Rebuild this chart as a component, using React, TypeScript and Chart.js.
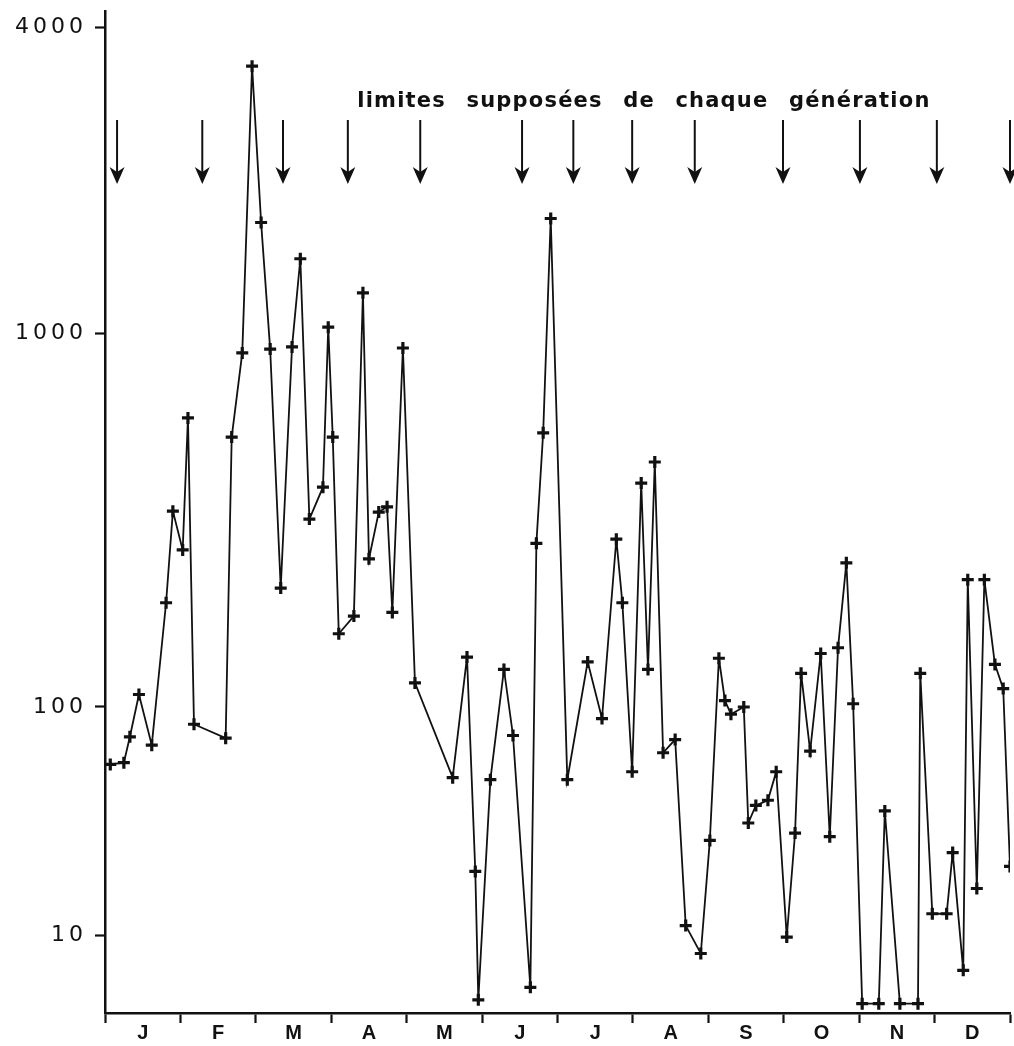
import React, { useEffect, useRef } from 'react';
import { Chart, registerables, LogarithmicScale } from 'chart.js';

Chart.register(...registerables);

// ---- data ----
const monthLabels = ['J', 'F', 'M', 'A', 'M', 'J', 'J', 'A', 'S', 'O', 'N', 'D'];

// sampling dates, in months since 1 January
const sampleMonth = [
  0.07, 0.25, 0.33, 0.45, 0.62, 0.81, 0.9, 1.03, 1.1, 1.18,
  1.6, 1.68, 1.82, 1.95, 2.07, 2.19, 2.33, 2.48, 2.59, 2.71,
  2.89, 2.96, 3.02, 3.1, 3.3, 3.42, 3.5, 3.63, 3.74, 3.81,
  3.95, 4.11, 4.61, 4.8, 4.91, 4.95, 5.11, 5.29, 5.41, 5.64,
  5.72, 5.81, 5.91, 6.13, 6.4, 6.59, 6.78, 6.86, 6.99, 7.11,
  7.2, 7.29, 7.4, 7.56, 7.7, 7.9, 8.02, 8.14, 8.22, 8.3,
  8.47, 8.53, 8.63, 8.79, 8.9, 9.04, 9.15, 9.23, 9.35, 9.49,
  9.61, 9.72, 9.83, 9.92, 10.04, 10.26, 10.34, 10.54, 10.78, 10.81,
  10.97, 11.16, 11.24, 11.38, 11.44, 11.56, 11.66, 11.8, 11.91, 12.0,
];

const captures = [
  56, 57, 74, 108, 68, 190, 334, 263, 593, 84,
  73, 527, 885, 3350, 1650, 906, 208, 918, 1400, 318,
  387, 1027, 527, 157, 175, 1200, 249, 332, 343, 179,
  912, 116, 49, 136, 19, 5.2, 48, 126, 75, 5.9,
  274, 541, 1680, 48, 132, 89, 281, 190, 52, 397,
  126, 452, 63, 72, 11, 8.3, 26, 135, 104, 93,
  100, 31, 37, 39, 52, 9.8, 28, 123, 64, 139,
  27, 144, 243, 102, 5, 5, 35, 5, 5, 123,
  12.4, 12.4, 23, 7, 219, 16, 219, 130, 112, 20,
];

const yTickValues = [10, 100, 1000, 4000];

// supposed limits of each generation (months since 1 January)
const generationLimits = [0.16, 1.29, 2.36, 3.22, 4.18, 5.53, 6.21, 6.99, 7.82, 8.99, 10.01, 11.03, 12.0];

const annotationText = 'limites supposées de chaque génération';

// ---- custom piecewise-logarithmic axis (hand-drawn decades of unequal length) ----
const axisAnchors: [number, number][] = [
  [4.55, 0],
  [10, 0.0778],
  [100, 0.3054],
  [1000, 0.6786],
  [4000, 0.984],
  [4300, 1],
];

function valueToDecimal(v: number): number {
  const lv = Math.log10(Math.max(v, 1e-9));
  for (let i = 0; i < axisAnchors.length - 1; i++) {
    const [v0, f0] = axisAnchors[i];
    const [v1, f1] = axisAnchors[i + 1];
    const l0 = Math.log10(v0);
    const l1 = Math.log10(v1);
    if (lv <= l1 || i === axisAnchors.length - 2) {
      return f0 + ((lv - l0) / (l1 - l0)) * (f1 - f0);
    }
  }
  return 0;
}

function decimalToValue(d: number): number {
  for (let i = 0; i < axisAnchors.length - 1; i++) {
    const [v0, f0] = axisAnchors[i];
    const [v1, f1] = axisAnchors[i + 1];
    if (d <= f1 || i === axisAnchors.length - 2) {
      const l0 = Math.log10(v0);
      const l1 = Math.log10(v1);
      return Math.pow(10, l0 + ((d - f0) / (f1 - f0)) * (l1 - l0));
    }
  }
  return axisAnchors[0][0];
}

class PiecewiseLogScale extends (LogarithmicScale as any) {
  static id = 'piecewiseLog';
  static defaults = {};
  buildTicks() {
    return yTickValues.map((v) => ({ value: v }));
  }
  getPixelForValue(value: number) {
    if (value === null || value === undefined || isNaN(value)) return NaN;
    return (this as any).getPixelForDecimal(valueToDecimal(value));
  }
  getValueForPixel(pixel: number) {
    return decimalToValue((this as any).getDecimalForPixel(pixel));
  }
  drawLabels(area: any) {
    const ctx = (this as any).ctx as CanvasRenderingContext2D;
    ctx.save();
    (ctx as any).letterSpacing = '4px';
    super.drawLabels(area);
    ctx.restore();
  }
}
Chart.register(PiecewiseLogScale as any);

const generationPlugin = {
  id: 'generationArrows',
  afterDraw(chart: any) {
    const ctx: CanvasRenderingContext2D = chart.ctx;
    const xs = chart.scales.x;
    ctx.save();
    ctx.fillStyle = '#111';
    ctx.strokeStyle = '#111';
    ctx.lineWidth = 2;
    for (const m of generationLimits) {
      const px = xs.getPixelForValue(m);
      ctx.beginPath();
      ctx.moveTo(px, 120);
      ctx.lineTo(px, 174);
      ctx.stroke();
      ctx.beginPath();
      ctx.moveTo(px, 184);
      ctx.lineTo(px - 7.5, 167);
      ctx.lineTo(px, 172);
      ctx.lineTo(px + 7.5, 167);
      ctx.closePath();
      ctx.fill();
    }
    ctx.font = 'bold 21px "DejaVu Sans", sans-serif';
    (ctx as any).letterSpacing = '1.2px';
    (ctx as any).wordSpacing = '12px';
    ctx.textAlign = 'center';
    ctx.textBaseline = 'alphabetic';
    ctx.fillText(annotationText, xs.getPixelForValue(7.146), 107);
    ctx.restore();
  },
};

export default function App() {
  const canvasRef = useRef<HTMLCanvasElement | null>(null);

  useEffect(() => {
    if (!canvasRef.current) return;
    const points = sampleMonth.map((m, i) => ({ x: m, y: captures[i] }));
    const chart = new Chart(canvasRef.current, {
      type: 'line',
      data: {
        datasets: [
          {
            data: points,
            borderColor: '#111',
            borderWidth: 1.8,
            tension: 0,
            pointStyle: 'cross',
            pointRadius: 6,
            pointBorderWidth: 3.2,
            pointBorderColor: '#111',
            pointBackgroundColor: '#111',
            fill: false,
          } as any,
        ],
      },
      options: {
        animation: false,
        responsive: false,
        devicePixelRatio: 1,
        layout: { autoPadding: false, padding: { top: 11, right: 4, bottom: 3, left: 0 } },
        plugins: {
          legend: { display: false },
          tooltip: { enabled: false },
        },
        scales: {
          x: {
            type: 'linear',
            min: 0,
            max: 12,
            position: 'bottom',
            weight: 0,
            afterBuildTicks: (s: any) => {
              s.ticks = monthLabels.map((_, i) => ({ value: i })).concat([{ value: 12 }]);
            },
            ticks: { display: false },
            grid: {
              display: true,
              drawOnChartArea: false,
              drawTicks: true,
              tickLength: 10,
              tickWidth: 2.2,
              tickColor: '#111',
            },
            border: { display: true, color: '#111', width: 2.5 },
            afterFit: (s: any) => {
              s.paddingLeft = 0;
              s.paddingRight = 0;
            },
          },
          xm: {
            type: 'linear',
            min: 0,
            max: 12,
            position: 'bottom',
            weight: 1,
            afterBuildTicks: (s: any) => {
              s.ticks = monthLabels.map((_, i) => ({ value: i + 0.5 }));
            },
            ticks: {
              autoSkip: false,
              maxRotation: 0,
              padding: 0,
              color: '#111',
              font: { family: '"Liberation Sans", Arial, sans-serif', size: 20, weight: 'bold', lineHeight: 1 },
              callback: (v: any) => monthLabels[Math.floor(Number(v))] ?? '',
            },
            grid: { display: false, drawTicks: false },
            border: { display: false },
            afterFit: (s: any) => {
              s.paddingLeft = 0;
              s.paddingRight = 0;
            },
          },
          y: {
            type: 'piecewiseLog',
            min: 4.55,
            max: 4300,
            position: 'left',
            ticks: {
              autoSkip: false,
              padding: 8,
              color: '#111',
              font: { family: '"DejaVu Sans", sans-serif', size: 22 },
              callback: (v: any) => String(v),
            },
            grid: {
              display: true,
              drawOnChartArea: false,
              drawTicks: true,
              tickLength: 10,
              tickWidth: 2.2,
              tickColor: '#111',
            },
            border: { display: true, color: '#111', width: 2.5 },
            afterFit: (s: any) => {
              s.width = 105;
              s.paddingTop = 0;
              s.paddingBottom = 0;
            },
          } as any,
        },
      },
      plugins: [generationPlugin],
    } as any);
    return () => chart.destroy();
  }, []);

  return (
    <div style={{ position: 'fixed', left: 0, top: 0, width: 1014, height: 1046, background: '#fff' }}>
      <canvas ref={canvasRef} width={1014} height={1046} style={{ display: 'block' }} />
    </div>
  );
}
